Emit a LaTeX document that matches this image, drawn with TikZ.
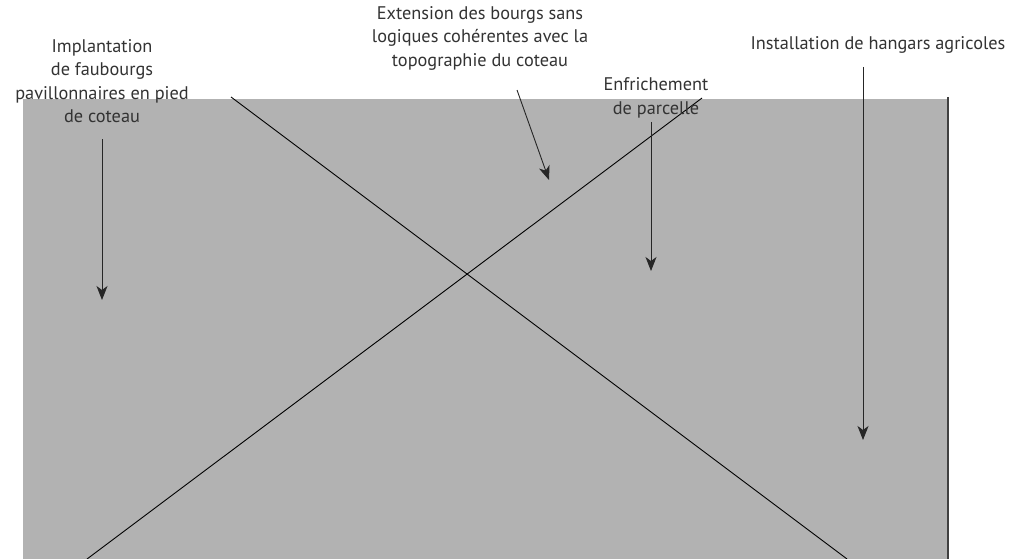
\documentclass[tikz,border=0pt]{standalone}
\usepackage{fontspec}
\setmainfont{PT Sans}
\usetikzlibrary{arrows.meta}

\begin{document}
\begin{tikzpicture}[
    x=1pt, y=-1pt,
    every node/.style={font=\fontsize{18.3}{23.5}\selectfont, align=center, text=black!80, inner sep=0pt},
    arrow/.style={line width=0.9pt, black!85, -{Stealth[length=14pt, width=11pt, inset=4pt]}},
    cross/.style={line width=0.9pt, black}
  ]
    % frame of the picture
    \useasboundingbox (0,0) rectangle (1014,559);

    % grey ground
    \fill[black!30] (23,99) rectangle (948,559);
    \draw[line width=1.5pt, black!75] (948,97) -- (948,559);

    % crossed lines
    \coordinate (crossa) at (231,97);
    \coordinate (crossb) at (847,559);
    \coordinate (crossc) at (87,559);
    \coordinate (crossd) at (702,98);
    \draw[cross] (crossa) -- (crossb);
    \draw[cross] (crossc) -- (crossd);

    % labels
    \node (implant) at (102,81) {Implantation\\de faubourgs\\pavillonnaires en pied\\de coteau};
    \node (extension) at (480,38) {Extension des bourgs sans\\logiques cohérentes avec la\\topographie du coteau};
    \node (enfrich) at (656,98) {Enfrichement\\de parcelle};
    \node (hangars) at (878,45) {Installation de hangars agricoles};

    % arrow ends
    \coordinate (implanta) at (102,139);
    \coordinate (implantb) at (102,300);
    \coordinate (extensiona) at (517,90);
    \coordinate (extensionb) at (549,180);
    \coordinate (enfricha) at (651,122);
    \coordinate (enfrichb) at (651,271);
    \coordinate (hangarsa) at (863,67);
    \coordinate (hangarsb) at (863,440);

    % arrows
    \draw[arrow] (implanta) -- (implantb);
    \draw[arrow] (extensiona) -- (extensionb);
    \draw[arrow] (enfricha) -- (enfrichb);
    \draw[arrow] (hangarsa) -- (hangarsb);

  \end{tikzpicture}
\end{document}
